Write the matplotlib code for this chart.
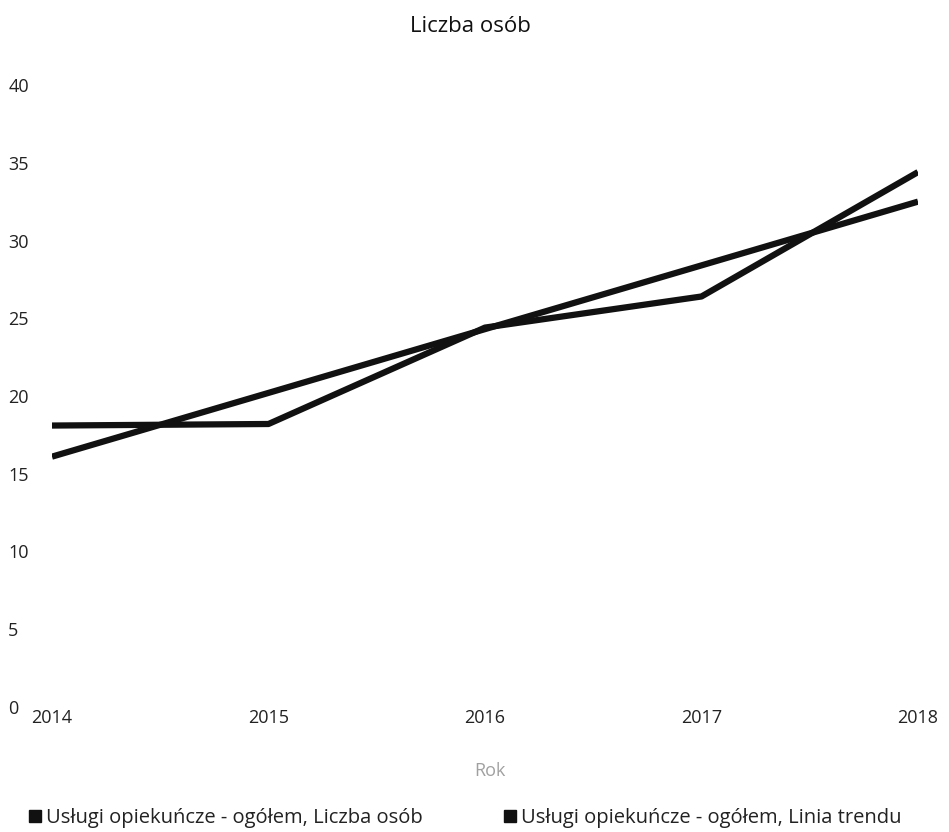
import matplotlib
matplotlib.use("Agg")
import matplotlib.pyplot as plt
from matplotlib.lines import Line2D

years = [2014, 2015, 2016, 2017, 2018]
liczba_osob = [18.1, 18.2, 24.4, 26.4, 34.4]
linia_trendu = [16.1, 20.2, 24.3, 28.4, 32.5]
y_ticks = [0, 5, 10, 15, 20, 25, 30, 35, 40]
series_names = ["Usługi opiekuńcze - ogółem, Liczba osób",
                "Usługi opiekuńcze - ogółem, Linia trendu"]

plt.rcParams['font.family'] = ['Open Sans', 'DejaVu Sans']

W, H = 949, 832
fig = plt.figure(figsize=(W / 100, H / 100), dpi=100)
ax = fig.add_axes([52 / W, 125 / H, (918 - 52) / W, (707 - 85) / H])

ax.plot(years, liczba_osob, color='#111111', lw=4.5, solid_capstyle='butt', zorder=3)
ax.plot(years, linia_trendu, color='#111111', lw=4.5, solid_capstyle='butt', zorder=2)

ax.set_xlim(2014, 2018)
ax.set_ylim(0, 40)
ax.set_yticks(y_ticks)
ax.set_xticks(years)
ax.set_xticklabels([str(y) for y in years])
for s in ax.spines.values():
    s.set_visible(False)
ax.tick_params(axis='both', length=0, labelsize=13, colors='#222222')
ax.tick_params(axis='y', pad=31.5)
for lab in ax.get_yticklabels():
    lab.set_horizontalalignment('left')
ax.tick_params(axis='x', pad=1.5)

fig.text(490 / W, 1 - 771 / H, "Rok", ha='center', va='center', fontsize=13, color='#a0a0a0')
fig.text(470 / W, 1 - 27 / H, "Liczba osób", ha='center', va='center', fontsize=16, color='#111111')

handles = [Line2D([], [], marker='s', ls='none', color='#111111', markersize=9) for _ in series_names]
fig.legend(handles, series_names, loc='center left', bbox_to_anchor=(19 / W, 1 - 818 / H),
           ncol=2, frameon=False, fontsize=14.5, handletextpad=0.15, columnspacing=3.9,
           handlelength=0.8, borderaxespad=0, labelcolor='#222222')

fig.savefig("out.png", dpi=100, facecolor='white')
